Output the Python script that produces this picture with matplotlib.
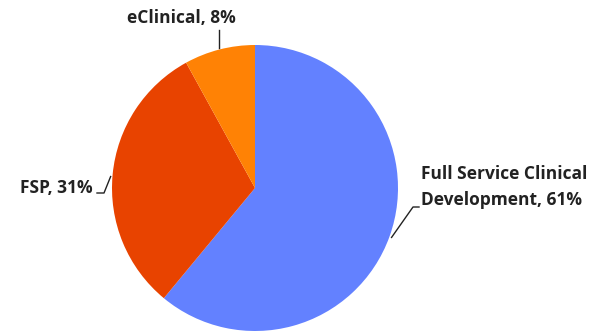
import numpy as np
import matplotlib
matplotlib.use('Agg')
import matplotlib.pyplot as plt

# data
labels = ['Full Service Clinical\nDevelopment', 'FSP', 'eClinical']
shares = [61, 31, 8]
colors = ['#6381FF', '#E84300', '#FF8205']

W, H = 597, 331
fig = plt.figure(figsize=(W / 100, H / 100), dpi=100)
ax = fig.add_axes([0, 0, 1, 1])

cx, cy, r = 255, H - 188, 143
wedges, _ = ax.pie(shares, colors=colors, startangle=90, counterclock=False,
                   center=(cx, cy), radius=r, frame=True)
ax.set_xlim(0, W)
ax.set_ylim(0, H)
ax.set_aspect('equal')
ax.axis('off')

font = dict(family='Open Sans', weight='bold', size=12.5, color='#222222')

# leader lines start at the wedge mid angle
def edge(w):
    a = np.deg2rad((w.theta1 + w.theta2) / 2)
    return cx + r * np.cos(a), cy + r * np.sin(a)

# Full service
x0, y0 = edge(wedges[0])
ax.plot([x0 + 2, 413, 419], [y0 - 1, H - 207, H - 207], color='#222222', lw=1)
ax.text(421, H - 187, '%s, %d%%' % (labels[0], shares[0]), ha='left', va='center',
        linespacing=1.6, **font)

# FSP
x0, y0 = edge(wedges[1])
ax.plot([x0 - 2, 104, 97], [y0 - 2, H - 193, H - 193], color='#222222', lw=1)
ax.text(93, H - 188, '%s, %d%%' % (labels[1], shares[1]), ha='right', va='center', **font)

# eClinical
x0, y0 = edge(wedges[2])
ax.plot([x0, x0], [y0 + 1, H - 30], color='#222222', lw=1)
ax.text(181, H - 18, '%s, %d%%' % (labels[2], shares[2]), ha='center', va='center', **font)

fig.savefig('out.png', dpi=100)
